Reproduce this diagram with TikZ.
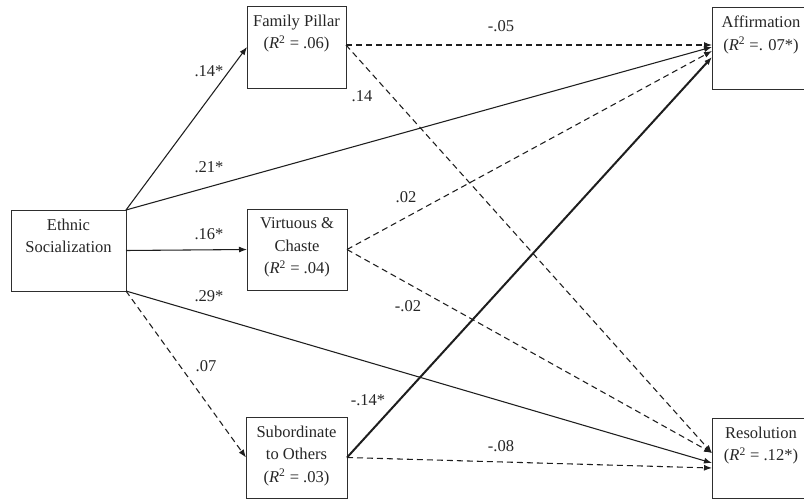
\documentclass[tikz,border=0pt]{standalone}
\usepackage{fontspec}
\setmainfont{Liberation Serif}
\usetikzlibrary{arrows.meta}
\definecolor{linec}{HTML}{1E1E1E}
\definecolor{boxc}{HTML}{2E2E2E}
\definecolor{txtc}{HTML}{262626}
\begin{document}
\begin{tikzpicture}[x=0.75pt,y=-0.75pt]
\tikzset{
  fig/.style={font=\fontsize{12.4}{16.9}\selectfont, text=txtc},
  box/.style={draw=boxc, line width=0.75pt, inner sep=0pt, outer sep=0pt, minimum height=60.75pt},
  btxt/.style={fig, anchor=north, align=center, inner sep=0pt},
  sigpath/.style={draw=linec, line width=0.8pt, -{Latex[length=6pt,width=4.5pt]}},
  nsig/.style={sigpath, dash pattern=on 4.5pt off 3pt},
  coef/.style={fig, inner sep=0pt},
}
\useasboundingbox (0,0) rectangle (804,500);
\clip (0,0) rectangle (804,500);
\fill[white] (0,0) rectangle (804,500);

% boxes
\node[box, minimum width=86.25pt] (eth) at (68.5,250.5) {};
\node[btxt] (etht) at ([yshift=-6.5pt]eth.north) {Ethnic\\Socialization};
\node[box, minimum width=74.25pt, minimum height=61.5pt] (fp) at (296.5,47) {};
\node[btxt] (fpt) at ([yshift=-6.5pt]fp.north) {Family Pillar\\(\textit{R}\textsuperscript{2} = .06)};
\node[box, minimum width=75pt] (vc) at (297,249.5) {};
\node[btxt] (vct) at ([yshift=-6.5pt]vc.north) {Virtuous \&\\Chaste\\(\textit{R}\textsuperscript{2} = .04)};
\node[box, minimum width=75.75pt] (sub) at (296.5,457.5) {};
\node[btxt] (subt) at ([yshift=-6.5pt]sub.north) {Subordinate\\to Others\\(\textit{R}\textsuperscript{2} = .03)};
\node[box, minimum width=73.5pt, minimum height=61.5pt] (aff) at (761,48) {};
\node[btxt] (afft) at ([yshift=-6.5pt]aff.north) {Affirmation\\(\textit{R}\textsuperscript{2} =. 07*)};
\node[box, minimum width=73.5pt, minimum height=60pt] (res) at (761,458) {};
\node[btxt] (rest) at ([yshift=-6.5pt]res.north) {Resolution\\(\textit{R}\textsuperscript{2} = .12*)};

% paths from Ethnic Socialization
\draw[sigpath] (eth.north east) -- (fp.west);
\draw[sigpath] (eth.north east) -- ([yshift=0.75pt]aff.west);
\draw[sigpath] (eth.east) -- (vc.west);
\draw[sigpath] (eth.south east) -- ([yshift=-3.75pt]res.west);
\draw[nsig] (eth.south east) -- (sub.west);

% paths from mediators
\draw[nsig] ([yshift=1.5pt]fp.east) -- ([yshift=2.25pt]aff.west);
\draw[nsig] ([yshift=1.5pt]fp.east) -- ([yshift=3.75pt]res.west);
\draw[nsig] (vc.east) -- ([yshift=-2.25pt]aff.west);
\draw[nsig] (vc.east) -- ([yshift=3.75pt]res.west);
\draw[sigpath, line width=1.5pt] (sub.east) -- ([yshift=-6.75pt]aff.west);
\draw[nsig] (sub.east) -- ([yshift=-7.5pt]res.west);

% coefficients
\node[coef] (c1) at (209,71) {.14*};
\node[coef] (c2) at (209,167) {.21*};
\node[coef] (c3) at (209,234) {.16*};
\node[coef] (c4) at (209,296) {.29*};
\node[coef] (c5) at (206,366) {.07};
\node[coef] (c6) at (501,26) {-.05};
\node[coef] (c7) at (362,96) {.14};
\node[coef] (c8) at (406,197) {.02};
\node[coef] (c9) at (408,306) {-.02};
\node[coef] (c10) at (368,400) {-.14*};
\node[coef] (c11) at (501,446) {-.08};
\end{tikzpicture}
\end{document}
